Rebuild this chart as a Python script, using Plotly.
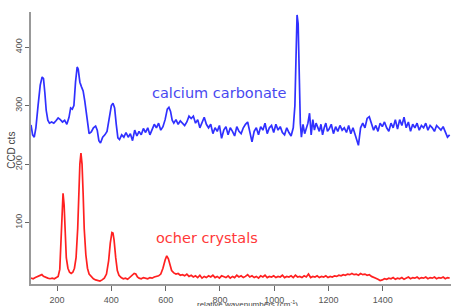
import plotly.graph_objects as go

# calcium carbonate spectrum (offset)
cc_x = [104,110,116,122,130,138,145,150,155,160,166,172,180,188,196,204,212,220,228,236,
        244,250,256,262,268,274,278,284,290,296,302,310,318,326,334,342,348,354,360,368,
        376,384,392,400,406,412,418,424,430,438,446,454,462,470,478,486,494,502,510,518,
        526,534,542,550,558,566,574,582,590,598,606,612,618,624,630,638,646,654,662,670,
        678,686,694,702,710,718,726,734,742,750,758,766,774,782,790,798,806,814,822,830,
        838,846,854,862,870,878,886,894,902,910,918,926,934,942,950,958,966,974,982,990,
        998,1006,1014,1022,1030,1038,1046,1054,1062,1070,1076,1080,1084,1088,1092,1096,1100,1106,1112,1118,
        1124,1130,1136,1142,1148,1154,1160,1166,1172,1178,1184,1190,1196,1202,1210,1218,1226,1234,1242,1250,
        1258,1266,1274,1282,1290,1298,1304,1310,1318,1326,1334,1342,1350,1358,1366,1374,1382,1390,1398,1406,
        1414,1422,1430,1438,1446,1454,1462,1470,1478,1486,1494,1502,1510,1518,1526,1534,1542,1550,1558,1566,
        1574,1582,1590,1598,1606,1614,1622,1630,1638,1646]
cc_y = [267,250,246,262,300,335,349,346,322,292,275,270,272,270,274,279,276,272,275,268,
        280,296,294,300,340,366,362,340,332,325,308,275,252,255,262,265,258,240,236,246,
        250,256,278,300,304,296,268,245,242,250,246,254,246,252,240,258,248,256,250,261,
        254,262,250,258,268,262,270,258,264,276,294,297,290,275,270,276,268,274,270,266,
        272,282,278,282,270,276,262,270,280,268,262,268,252,262,256,266,244,258,264,250,
        262,256,248,264,256,252,262,268,272,255,238,256,262,250,264,258,270,252,262,266,
        254,268,258,264,254,250,262,254,248,262,300,380,455,440,350,270,246,268,252,262,
        270,287,250,276,258,270,262,256,268,250,262,270,256,260,268,252,264,256,266,258,
        262,254,266,252,262,250,240,232,262,270,262,278,281,268,258,266,256,270,264,272,
        262,256,270,262,276,260,276,266,280,262,272,256,268,262,270,258,266,262,270,258,
        266,262,256,266,262,258,264,254,246,250]

# ocher crystals spectrum
oc_x = [104,112,120,128,136,144,150,158,166,174,182,190,198,204,210,214,218,222,226,230,
        234,240,246,252,258,264,270,276,280,284,288,292,296,300,306,312,318,326,334,342,
        350,358,366,374,382,390,396,402,406,410,416,422,428,436,444,452,460,468,476,484,
        490,496,502,510,518,526,534,542,550,558,566,574,582,590,598,604,610,616,622,630,
        638,646,654,662,670,678,686,694,702,710,718,726,734,742,750,758,766,774,782,790,
        798,806,814,822,830,838,846,854,862,870,878,886,894,902,910,918,926,934,942,950,
        958,966,974,982,990,998,1006,1014,1022,1030,1038,1046,1054,1062,1070,1078,1086,1094,1102,1110,
        1118,1126,1134,1142,1150,1158,1166,1174,1182,1190,1198,1206,1214,1222,1230,1238,1246,1254,1262,1270,
        1278,1286,1294,1302,1310,1318,1326,1334,1342,1350,1358,1366,1374,1382,1390,1398,1406,1414,1422,1430,
        1438,1446,1454,1462,1470,1478,1486,1494,1502,1510,1518,1526,1534,1542,1550,1558,1566,1574,1582,1590,
        1598,1606,1614,1622,1630,1638,1646]
oc_y = [5,4,6,8,9,11,8,6,5,4,5,4,6,8,20,60,120,150,130,80,
        40,22,15,13,15,22,40,90,150,200,219,200,150,90,45,22,12,7,4,2,
        1,0,2,5,12,35,65,83,82,70,40,18,10,6,4,5,3,6,9,13,
        12,7,5,4,6,5,4,6,5,7,8,9,12,22,36,43,38,26,18,14,
        12,13,10,11,9,12,8,10,7,9,6,10,5,8,6,9,7,10,6,8,
        5,9,7,6,9,5,8,6,10,7,9,6,8,11,7,9,6,8,5,9,
        7,10,6,8,7,9,6,8,7,10,6,8,7,9,6,10,7,8,6,9,
        7,12,6,8,7,9,6,8,7,9,6,8,7,9,8,10,9,11,10,12,
        11,13,11,12,10,13,11,12,10,11,8,7,5,3,1,2,4,3,5,4,
        6,3,5,4,6,3,5,7,4,6,5,7,4,6,5,7,4,6,5,7,
        4,6,5,7,4,6,5]

x_ticks = [200, 400, 600, 800, 1000, 1200, 1400]
y_ticks = [100, 200, 300, 400]

fig = go.Figure()
fig.add_trace(go.Scatter(x=cc_x, y=cc_y, mode="lines",
                         line=dict(color="#3030ff", width=1.7), name="calcium carbonate"))
fig.add_trace(go.Scatter(x=oc_x, y=oc_y, mode="lines",
                         line=dict(color="#ff2020", width=1.7), name="ocher crystals"))

fig.add_annotation(x=797, y=321, text="calcium carbonate", showarrow=False,
                   font=dict(family="DejaVu Sans", size=14.5, color="#4848f0"))
fig.add_annotation(x=754, y=74, text="ocher crystals", showarrow=False,
                   font=dict(family="DejaVu Sans", size=14.5, color="#ff3838"))

# axis titles placed as annotations
fig.add_annotation(x=0.515, y=-0.074, xref="paper", yref="paper",
                   text="relative wavenumbers (cm<sup>-1</sup>)", showarrow=False,
                   xanchor="center", yanchor="middle",
                   font=dict(family="Liberation Sans", size=8, color="#444444"))
fig.add_annotation(x=-0.045, y=0.49, xref="paper", yref="paper",
                   text="CCD cts", showarrow=False, textangle=-90,
                   xanchor="center", yanchor="middle",
                   font=dict(family="Liberation Sans", size=10, color="#444444"))

fig.update_layout(
    width=451, height=306,
    margin=dict(l=31, r=0, t=12, b=22),
    paper_bgcolor="white", plot_bgcolor="white",
    showlegend=False,
    font=dict(family="Liberation Sans", color="#555555"),
)
fig.update_xaxes(range=[104, 1651], tickvals=x_ticks, ticks="outside", ticklen=5,
                 ticklabelstandoff=1,
                 tickcolor="#666666", showline=True, linecolor="#999999", linewidth=1.5,
                 showgrid=False, zeroline=False, tickfont=dict(size=9, color="#555555"))
fig.update_yaxes(range=[-5, 460], tickvals=y_ticks, ticks="outside", ticklen=4,
                 tickcolor="#666666", showline=True, linecolor="#999999", linewidth=1.5,
                 showgrid=False, zeroline=False, tickangle=-90,
                 tickfont=dict(size=9, color="#555555"))

fig.write_html("out.html", config={"displayModeBar": False},
               post_script="document.body.style.margin='0';document.body.style.overflow='hidden';")
